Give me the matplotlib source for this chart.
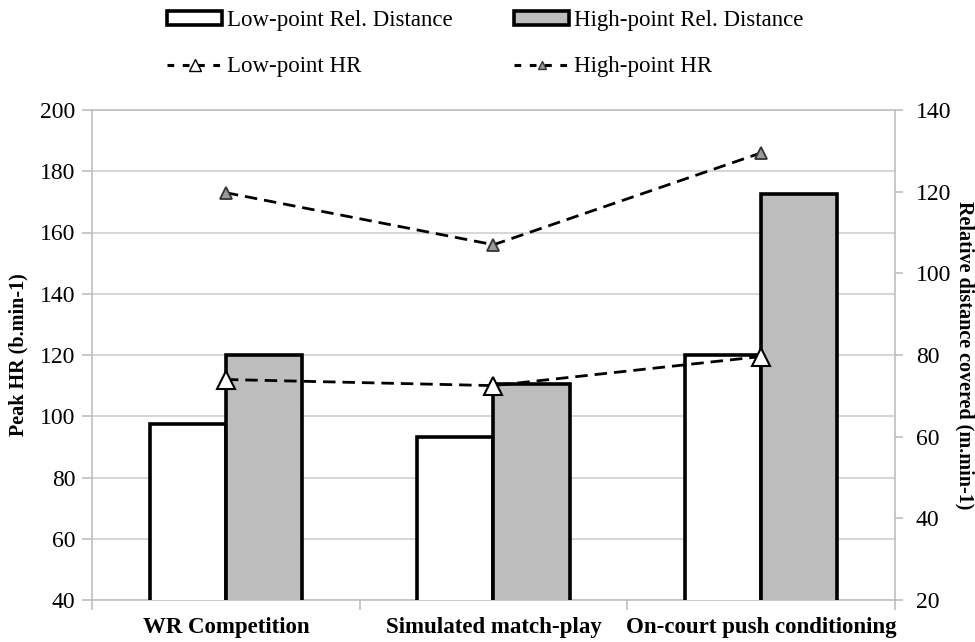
import matplotlib
matplotlib.use('Agg')
import matplotlib.pyplot as plt
import numpy as np
from matplotlib.patches import Patch
from matplotlib.lines import Line2D

categories = ['WR Competition', 'Simulated match-play', 'On-court push conditioning']
low_dist = [63, 60, 80]
high_dist = [80, 73, 119.5]
low_hr = [112, 110, 119.5]
high_hr = [173, 156, 186]

plt.rcParams['font.family'] = 'Liberation Serif'
grid_col = '#d0d0d0'
spine_col = '#bfbfbf'
bar_gray = '#bdbdbd'

fig = plt.figure(figsize=(9.75, 6.42), dpi=100)
ax = fig.add_axes([92 / 975, 1 - 600 / 642, (895 - 92) / 975, (600 - 110) / 642])
ax2 = ax.twinx()
ax3 = ax.twinx()

x = np.arange(len(categories))
w = 0.285

# left axis: heart rate, gridlines
ax.set_xlim(-0.5, 2.5)
ax.set_ylim(40, 200)
ax.set_yticks(np.arange(40, 201, 20))
ax.yaxis.grid(True, color=grid_col, linewidth=1.2)
ax.set_axisbelow(True)
ax.set_xticks([-0.5, 0.5, 1.5, 2.5])
ax.set_xticklabels([])
ax.set_xticks(x, minor=True)
ax.set_xticklabels(categories, minor=True, fontsize=16.5, fontweight='bold')
ax.tick_params(axis='x', which='minor', length=0, pad=12)
ax.tick_params(axis='x', which='major', length=7, color=spine_col, width=1.2)
ax.tick_params(axis='y', length=7, color=spine_col, width=1.2, labelsize=17, pad=5)
for s in ax.spines.values():
    s.set_color(spine_col)
    s.set_linewidth(1.2)
ax.set_ylabel('Peak HR (b.min-1)', fontsize=14.5, fontweight='bold')
ax.yaxis.set_label_coords(-92 / 803 + 18 / 803, 0.5)
ax.yaxis.label.set_va('center')

# right axis: relative distance bars
ax2.bar(x - w / 2, low_dist, w, color='white', edgecolor='black', linewidth=2.6, zorder=3)
ax2.bar(x + w / 2, high_dist, w, color=bar_gray, edgecolor='black', linewidth=2.6, zorder=3)
ax2.set_ylim(20, 140)
ax2.set_yticks(np.arange(20, 141, 20))
ax2.tick_params(axis='y', length=6, color=spine_col, width=1.2, labelsize=17, pad=9)
for s in ax2.spines.values():
    s.set_visible(False)
ax2.set_ylabel('Relative distance covered (m.min-1)', fontsize=14.5, fontweight='bold',
               rotation=-90)
ax2.yaxis.set_label_coords((965 - 92) / 803, 0.5)
ax2.yaxis.label.set_va('center')

# lines on top, same scale as left axis
ax3.set_ylim(40, 200)
ax3.set_yticks([])
for s in ax3.spines.values():
    s.set_visible(False)
ax3.plot(x, low_hr, color='black', linewidth=2, dashes=(4.5, 2.5), marker='^',
         markersize=13, markerfacecolor='white', markeredgecolor='black', markeredgewidth=1.5)
ax3.plot(x, high_hr, color='black', linewidth=2, dashes=(4.5, 2.5), marker='^',
         markersize=8, markerfacecolor='#9a9a9a', markeredgecolor='#333333', markeredgewidth=1.3)

handles = [
    Patch(facecolor='white', edgecolor='black', linewidth=2.6),
    Line2D([], [], color='black', linewidth=2.2, dashes=(2.2, 2.8), marker='^', markersize=9,
           markerfacecolor='white', markeredgecolor='black', markeredgewidth=1),
    Patch(facecolor=bar_gray, edgecolor='black', linewidth=2.6),
    Line2D([], [], color='black', linewidth=2.2, dashes=(2.2, 2.8), marker='^', markersize=6,
           markerfacecolor='#9a9a9a', markeredgecolor='#333333', markeredgewidth=1),
]
labels = ['Low-point Rel. Distance', 'Low-point HR', 'High-point Rel. Distance', 'High-point HR']
fig.legend(handles, labels, loc='upper left', bbox_to_anchor=(167 / 975, 1 - 10 / 642),
           ncol=2, frameon=False, fontsize=16.5, handlelength=2.4, handleheight=0.6,
           handletextpad=0.2, columnspacing=2.7, labelspacing=1.1, borderpad=0,
           borderaxespad=0)

fig.savefig('out.png', dpi=100)
